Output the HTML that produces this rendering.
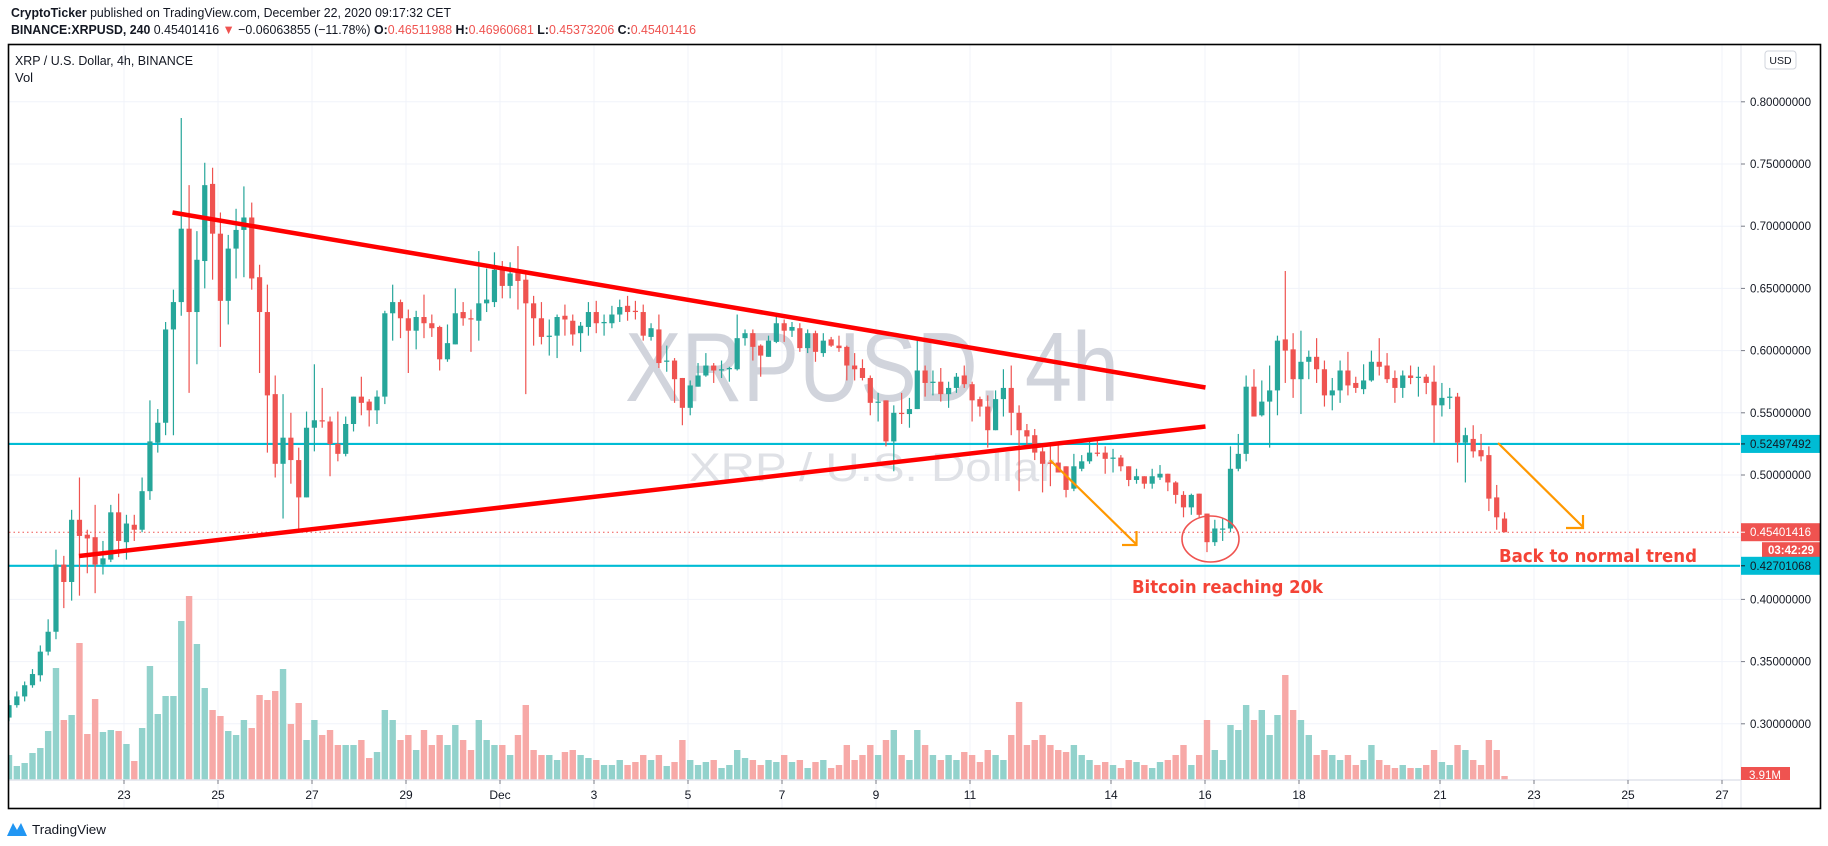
<!DOCTYPE html>
<html><head><meta charset="utf-8"><title>XRPUSD 4h</title>
<style>
html,body{margin:0;padding:0;background:#fff;}
svg{display:block;font-family:"Liberation Sans",sans-serif;}
</style></head>
<body>
<svg id="chart" width="1828" height="846" viewBox="0 0 1828 846" xmlns="http://www.w3.org/2000/svg">
  <rect x="0" y="0" width="1828" height="846" fill="#fff"/>
  <text x="11" y="17" font-size="13" fill="#131722" textLength="440" lengthAdjust="spacingAndGlyphs"><tspan font-weight="bold">CryptoTicker</tspan> published on TradingView.com, December 22, 2020 09:17:32 CET</text>
  <text x="11" y="34" font-size="13" fill="#131722" textLength="685" lengthAdjust="spacingAndGlyphs"><tspan font-weight="bold">BINANCE:XRPUSD, 240</tspan> 0.45401416 <tspan fill="#ef5350">▼</tspan> −0.06063855 (−11.78%) <tspan font-weight="bold">O:</tspan><tspan fill="#ef5350">0.46511988</tspan> <tspan font-weight="bold">H:</tspan><tspan fill="#ef5350">0.46960681</tspan> <tspan font-weight="bold">L:</tspan><tspan fill="#ef5350">0.45373206</tspan> <tspan font-weight="bold">C:</tspan><tspan fill="#ef5350">0.45401416</tspan></text>
  <g id="grid"></g>
  <g id="watermark">
    <text x="872" y="401" font-size="98" fill="#d1d4dc" text-anchor="middle" textLength="494" lengthAdjust="spacingAndGlyphs">XRPUSD, 4h</text>
    <text x="872" y="481" font-size="40" fill="#dfe1e6" text-anchor="middle" textLength="366" lengthAdjust="spacingAndGlyphs">XRP / U.S. Dollar</text>
  </g>
  <g id="plot" clip-path="url(#plotclip)"></g>
  <defs><clipPath id="plotclip"><rect x="9" y="45" width="1731" height="735"/></clipPath></defs>
  <g id="overlay"></g>
  <g id="axes"></g>
  <text x="15" y="65" font-size="13" fill="#131722" textLength="178" lengthAdjust="spacingAndGlyphs">XRP / U.S. Dollar, 4h, BINANCE</text>
  <text x="15" y="82" font-size="13" fill="#131722">Vol</text>
  <g>
    <rect x="1765" y="51" width="31" height="18" rx="3" fill="#fff" stroke="#d1d4dc"/>
    <text x="1780.5" y="64" font-size="10.5" fill="#131722" text-anchor="middle">USD</text>
  </g>
  <rect x="8.5" y="44.5" width="1812" height="764" fill="none" stroke="#000" stroke-width="1.6"/>
  <g>
    <path d="M7 836 L13 823 L17 830 L21 823 L27 836 Z" fill="#2196f3"/>
    <text x="32" y="834" font-size="12.5" fill="#131722" textLength="74" lengthAdjust="spacingAndGlyphs">TradingView</text>
  </g>
</svg>
<script>
const OPEN=[.305,.315,.322,.331,.339,.358,.374,.428,.414,.464,.452,.450,.428,.432,.470,.446,.460,.456,.487,.526,.542,.617,.639,.698,.631,.672,.734,.694,.640,.682,.697,.707,.659,.631,.565,.509,.530,.512,.482,.538,.544,.543,.525,.517,.541,.563,.559,.552,.563,.630,.639,.626,.616,.627,.622,.619,.593,.605,.631,.626,.624,.638,.639,.665,.652,.664,.657,.638,.626,.611,.612,.628,.624,.614,.619,.631,.622,.622,.629,.636,.632,.631,.611,.617,.591,.592,.578,.554,.571,.580,.588,.584,.585,.585,.610,.614,.604,.595,.607,.622,.616,.618,.602,.614,.598,.609,.604,.603,.588,.586,.578,.558,.560,.527,.550,.549,.553,.584,.574,.575,.565,.570,.580,.573,.561,.555,.536,.561,.570,.550,.536,.532,.519,.510,.510,.507,.489,.505,.511,.518,.518,.513,.514,.507,.496,.499,.493,.498,.501,.494,.484,.474,.485,.469,.446,.456,.457,.505,.517,.571,.548,.559,.568,.609,.601,.577,.591,.595,.585,.564,.568,.584,.574,.569,.576,.591,.588,.578,.570,.580,.578,.579,.575,.556,.562,.563,.526,.529,.520,.516,.482,.465];
const HIGH=[.319,.326,.334,.344,.363,.384,.440,.435,.472,.498,.456,.476,.447,.476,.485,.468,.468,.498,.560,.553,.623,.649,.787,.733,.696,.751,.747,.711,.693,.714,.732,.719,.669,.653,.580,.565,.550,.522,.551,.589,.570,.547,.551,.547,.563,.579,.561,.568,.632,.653,.641,.633,.632,.645,.629,.620,.621,.650,.639,.633,.680,.666,.679,.672,.671,.684,.662,.644,.639,.625,.629,.637,.629,.623,.639,.640,.629,.636,.641,.644,.640,.637,.622,.629,.604,.594,.578,.576,.590,.598,.590,.592,.587,.629,.617,.617,.605,.612,.628,.625,.623,.622,.617,.616,.614,.611,.612,.604,.598,.593,.580,.566,.560,.556,.566,.562,.608,.588,.584,.586,.575,.582,.588,.575,.563,.564,.568,.585,.588,.556,.541,.537,.522,.524,.524,.507,.517,.516,.530,.528,.523,.521,.516,.507,.505,.499,.505,.508,.501,.495,.487,.485,.485,.469,.464,.465,.523,.533,.580,.585,.576,.588,.612,.664,.614,.616,.600,.610,.592,.578,.592,.599,.579,.589,.600,.610,.598,.584,.584,.588,.587,.581,.588,.574,.570,.566,.538,.540,.533,.523,.492,.470];
const LOW=[.302,.313,.318,.329,.334,.355,.368,.393,.399,.403,.421,.405,.420,.430,.434,.432,.447,.454,.480,.518,.532,.532,.628,.566,.589,.650,.657,.603,.621,.658,.659,.649,.582,.518,.498,.465,.493,.456,.482,.519,.538,.499,.511,.515,.535,.548,.539,.541,.557,.608,.610,.582,.601,.610,.611,.584,.591,.605,.620,.599,.608,.631,.635,.642,.642,.633,.565,.604,.605,.596,.594,.612,.604,.599,.612,.614,.612,.618,.623,.624,.625,.608,.608,.586,.583,.558,.540,.548,.571,.579,.574,.578,.575,.584,.604,.592,.579,.595,.606,.607,.611,.599,.598,.591,.595,.603,.599,.576,.576,.576,.548,.543,.523,.503,.541,.538,.553,.563,.564,.559,.554,.566,.570,.543,.547,.522,.536,.547,.532,.487,.524,.512,.486,.491,.502,.482,.487,.503,.509,.515,.501,.502,.503,.491,.493,.489,.489,.496,.487,.477,.466,.468,.466,.438,.443,.447,.454,.503,.511,.547,.547,.522,.548,.574,.562,.549,.577,.574,.555,.552,.558,.564,.566,.565,.575,.580,.574,.558,.562,.573,.563,.565,.526,.547,.553,.510,.494,.514,.511,.471,.456,.454];
const CLOSE=[.315,.322,.331,.340,.358,.374,.428,.414,.464,.451,.449,.428,.433,.470,.447,.461,.456,.487,.527,.542,.617,.639,.698,.631,.673,.733,.694,.640,.682,.697,.707,.658,.631,.564,.509,.530,.512,.482,.538,.544,.543,.525,.517,.541,.563,.558,.552,.563,.630,.639,.626,.616,.627,.622,.618,.593,.606,.630,.626,.625,.638,.641,.665,.652,.662,.656,.638,.626,.611,.612,.627,.625,.613,.620,.631,.622,.623,.629,.635,.631,.631,.612,.618,.590,.592,.577,.554,.572,.580,.588,.584,.585,.586,.610,.614,.603,.596,.608,.622,.616,.619,.602,.614,.599,.608,.604,.602,.588,.585,.578,.558,.559,.527,.550,.549,.553,.584,.574,.575,.565,.570,.579,.573,.560,.555,.536,.561,.570,.550,.536,.531,.518,.509,.509,.502,.488,.507,.511,.518,.517,.513,.514,.507,.496,.499,.493,.499,.501,.494,.484,.474,.484,.468,.446,.457,.457,.505,.517,.571,.547,.559,.568,.608,.600,.577,.591,.595,.585,.564,.568,.584,.572,.570,.576,.591,.587,.577,.570,.580,.578,.579,.574,.556,.562,.563,.526,.532,.519,.515,.481,.466,.454];
const VOLUME=[25,14,17,27,32,49,112,60,65,137,46,81,48,50,49,36,19,52,114,66,84,84,159,184,136,92,70,64,49,45,60,52,85,80,89,111,56,77,40,60,45,50,35,35,35,40,22,28,70,60,40,45,30,50,35,45,35,55,40,30,60,40,35,35,25,45,75,30,25,25,20,28,30,25,22,20,15,15,20,15,18,25,20,25,14,18,40,20,15,18,20,12,15,30,22,20,15,20,18,25,18,20,12,18,20,12,15,35,20,25,35,25,40,50,25,20,50,35,25,20,25,20,28,25,18,30,25,20,45,78,35,40,45,35,30,28,35,25,20,15,18,15,12,20,18,15,12,18,20,25,35,15,25,60,30,20,55,50,75,60,70,45,65,105,70,60,45,25,30,25,20,25,15,20,35,20,15,12,15,12,12,15,30,18,15,35,30,20,15,40,30,4];
const PRICE_TICKS=[0.80,0.75,0.70,0.65,0.60,0.55,0.50,0.45,0.40,0.35,0.30];
const DATE_LABELS=["23","25","27","29","Dec","3","5","7","9","11","14","16","18","21","23","25","27"];
const DATE_OFFSETS=[0,2,4,6,8,10,12,14,16,18,21,23,25,28,30,32,34];
const LEVELS=[0.52497492,0.42701068];
const LAST_PRICE=0.45401416;
const LAST_VOLUME_LABEL="3.91M";

const NS="http://www.w3.org/2000/svg";
function yP(p){return 101.8+(0.8-p)/0.05*62.2;}
function xI(i){return 9+7.83*i;}
function xD(d){return 124+47*d;}
function yV(v){return 780-v*1.0;}
function mk(tag,attrs,parent){const e=document.createElementNS(NS,tag);for(const k in attrs)e.setAttribute(k,attrs[k]);parent.appendChild(e);return e;}

const grid=document.getElementById('grid');
const plot=document.getElementById('plot');
const overlay=document.getElementById('overlay');
const axes=document.getElementById('axes');

PRICE_TICKS.forEach(p=>{
  const l=mk('line',{x1:9,x2:1741,y1:yP(p),y2:yP(p),stroke:'#f0f3fa','stroke-width':1},grid);
  
  
});
DATE_OFFSETS.forEach(d=>{
  const l=mk('line',{x1:xD(d),x2:xD(d),y1:45,y2:808,stroke:'#f0f3fa','stroke-width':1},grid);
  
  
});

// volume bars
VOLUME.forEach((v,i)=>{
  const up=CLOSE[i]>=OPEN[i];
  const r=mk('rect',{x:xI(i)-3.2,y:yV(v),width:6.4,height:780-yV(v),fill:up?'#92d2cc':'#f7a9a7'},plot);
  
  
});

// horizontal levels
LEVELS.forEach(p=>{
  const l=mk('line',{x1:9,x2:1741,y1:yP(p),y2:yP(p),stroke:'#00bcd4','stroke-width':2.2},plot);
  
  
});
const pl=mk('line',{x1:9,x2:1741,y1:yP(LAST_PRICE),y2:yP(LAST_PRICE),stroke:'#ef5350','stroke-width':1,'stroke-dasharray':'1.5,3'},plot);



// candles
CLOSE.forEach((c,i)=>{
  const o=OPEN[i],up=c>=o,col=up?'#26a69a':'#ef5350';
  const g=mk('g',{},plot);
  
  
  mk('line',{x1:xI(i),x2:xI(i),y1:yP(HIGH[i]),y2:yP(LOW[i]),stroke:col,'stroke-width':1.2},g);
  const top=yP(Math.max(o,c)),bot=yP(Math.min(o,c));
  mk('rect',{x:xI(i)-2.6,y:top,width:5.2,height:Math.max(1,bot-top),fill:col},g);
});

// drawings
function line(x1,y1,x2,y2,col,w,name){const l=mk('line',{x1,y1,x2,y2,stroke:col,'stroke-width':w,'stroke-linecap':'butt'},overlay);return l;}
line(172.5,212.5,1205.5,387.5,'#ff0000',4.5,'upper-trendline');
line(79,556,1205.5,426.5,'#ff0000',4.5,'lower-trendline');
line(1050,460,1136,544,'#ff9800',2.2,'arrow-down-1');
line(1122,545,1137,545,'#ff9800',2.2,'arrow-head-1a');
line(1136.5,531,1136.5,546,'#ff9800',2.2,'arrow-head-1b');
line(1498,443,1583,527,'#ff9800',2.2,'arrow-down-2');
line(1566,528,1584,528,'#ff9800',2.2,'arrow-head-2a');
line(1583,515,1583,529,'#ff9800',2.2,'arrow-head-2b');
const el=mk('ellipse',{cx:1210.5,cy:539,rx:28.5,ry:23,fill:'none',stroke:'#ef5350','stroke-width':1.6},overlay);


const t1=mk('text',{x:1132,y:593,'font-size':18,'font-weight':'bold',fill:'#f44336',textLength:191,lengthAdjust:'spacingAndGlyphs','font-family':'DejaVu Sans, sans-serif'},overlay);
t1.textContent='Bitcoin reaching 20k';


const t2=mk('text',{x:1499,y:562,'font-size':18,'font-weight':'bold',fill:'#f44336',textLength:198,lengthAdjust:'spacingAndGlyphs','font-family':'DejaVu Sans, sans-serif'},overlay);
t2.textContent='Back to normal trend';



// axes
mk('line',{x1:1741,x2:1741,y1:45,y2:808,stroke:'#e0e3eb','stroke-width':1},axes);
mk('line',{x1:9,x2:1741,y1:780,y2:780,stroke:'#e0e3eb','stroke-width':1.5},axes);
PRICE_TICKS.forEach(p=>{
  mk('line',{x1:1741,x2:1745,y1:yP(p),y2:yP(p),stroke:'#787b86'},axes);
  const t=mk('text',{x:1750,y:yP(p)+4,'font-size':11.5,fill:'#131722',textLength:61,lengthAdjust:'spacingAndGlyphs'},axes);
  t.textContent=p.toFixed(8);
  
  
});
DATE_LABELS.forEach((s,k)=>{
  const x=xD(DATE_OFFSETS[k]);
  mk('line',{x1:x,x2:x,y1:780,y2:784,stroke:'#787b86'},axes);
  const t=mk('text',{x:x,y:799,'font-size':12,fill:'#131722','text-anchor':'middle'},axes);
  t.textContent=s;
  
  
});
function tag(p,bg,fg,name){
  const y=yP(p);
  const g=mk('g',{},axes);
  
  
  mk('rect',{x:1741,y:y-9,width:80,height:18,fill:bg},g);
  mk('line',{x1:1741,x2:1745,y1:y,y2:y,stroke:fg},g);
  const t=mk('text',{x:1750,y:y+4,'font-size':11.5,fill:fg,textLength:61,lengthAdjust:'spacingAndGlyphs'},g);
  t.textContent=p.toFixed(8);
}
tag(LEVELS[0],'#00bcd4','#131722','level-price-tag');
tag(LAST_PRICE,'#ef5350','#ffffff','last-price-tag');
const cd=mk('g',{},axes);


mk('rect',{x:1762,y:yP(LAST_PRICE)+10,width:59,height:15,fill:'#ef5350'},cd);
const cdt=mk('text',{x:1791,y:yP(LAST_PRICE)+22,'font-size':11.5,fill:'#fff','text-anchor':'middle','font-weight':'bold'},cd);
cdt.textContent='03:42:29';
tag(LEVELS[1],'#00bcd4','#131722','support-price-tag');
const vt=mk('g',{},axes);


mk('rect',{x:1741,y:767,width:49,height:13,fill:'#ef5350'},vt);
const vtt=mk('text',{x:1749,y:779,'font-size':11.5,fill:'#fff'},vt);
vtt.textContent=LAST_VOLUME_LABEL;
</script>
</body></html>
